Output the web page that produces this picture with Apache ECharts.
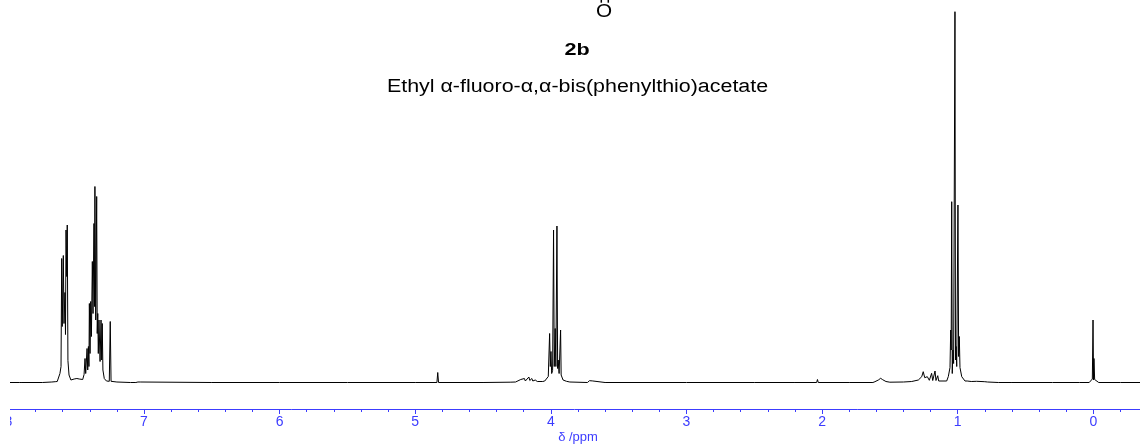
<!DOCTYPE html>
<html>
<head>
<meta charset="utf-8">
<script src="https://cdn.jsdelivr.net/npm/echarts@6/dist/echarts.min.js"></script>
<style>
html,body{margin:0;padding:0;background:#fff;}
#chart{width:1140px;height:444px;}
</style>
</head>
<body>
<div id="chart"></div>
<script>
// ---- data: [chemical shift (ppm), intensity (arb.)] ----
const baselinePoints = [[8.0,0],[7.92,0],[7.912,1.2],[7.90,0],[7.75,0],[7.68,0.5],[7.655,0.8],
  [7.2,0.5],[7.1,0],[6.5,0],[6.0,0],[5.5,0],[5.0,0],[4.5,0],[4.3,0.3],[3.6,0],[3.0,0],
  [2.5,0],[2.2,0],[1.8,0],[1.4,0.5],[0.6,0],[0.3,0],[0.1,0]];
const aromaticOrtho = [[7.640,1],[7.632,2],[7.620,9],[7.612,16],[7.607,124],[7.603,56],
  [7.595,127],[7.590,59],[7.583,90],[7.579,48],[7.575,152.5],[7.570,106],[7.566,157.5],
  [7.561,22],[7.553,7.5],[7.539,2.5]];
const aromaticGap = [[7.525,2],[7.515,3.5],[7.505,2.5],[7.495,4],[7.487,2.5],[7.478,3.5],[7.468,2.5]];
const aromaticMetaPara = [[7.452,3],[7.442,8],[7.435,24],[7.430,9],[7.420,34],[7.415,12.5],
  [7.410,36],[7.406,16],[7.403,79],[7.398,29],[7.393,81],[7.388,46],[7.381,121],[7.376,69],
  [7.369,159],[7.365,76],[7.362,196],[7.356,62.5],[7.349,186],[7.345,49],[7.341,69],
  [7.337,29],[7.332,62.5],[7.324,21],[7.317,62.5],[7.312,22.5],[7.308,59],[7.303,12.5],
  [7.293,4],[7.277,1.5]];
const solventPeak = [[7.256,1.2],[7.249,61],[7.243,1.2]];
const minorPeaks = [[7.06,0],[7.05,1.8],[7.045,0.5],[7.035,2],[7.028,0.5],[7.02,0],
  [4.840,0],[4.834,10],[4.828,0],
  [4.26,0.5],[4.222,3],[4.215,1],[4.195,4],[4.188,1.5],[4.162,5.5],[4.155,2],[4.140,4],
  [4.133,1.5],[4.115,2.5],[4.10,1],[4.06,1],[4.045,1.5],[4.031,2.5],
  [3.910,2.5],[3.885,1.2],[3.86,0.5],
  [3.73,0],[3.715,1.8],[3.708,0.3],[3.695,1.6],[3.685,0],
  [2.04,0],[2.034,3],[2.028,0],
  [1.625,0],[1.610,0.8],[1.585,2.5],[1.568,4.2],[1.553,2.8],[1.529,1],[1.50,0.3],
  [1.339,1],[1.290,2.5],[1.265,5.8],[1.254,10.8],[1.243,4.8],[1.224,5.8],[1.209,2.2],
  [1.192,9.2],[1.184,2],[1.167,11.5],[1.160,2],[1.147,6.8],[1.140,1.5],[1.081,1.5],
  [0.93,1.5],[0.90,1],[0.86,1.2],[0.80,0.8],[0.78,0.5],[0.70,0]];
const ch2Quartet = [[4.019,6],[4.009,49],[4.004,16],[3.999,31],[3.994,9],[3.987,12],
  [3.980,152.5],[3.975,16],[3.968,54],[3.963,16],[3.955,156.5],[3.950,14],[3.946,22.5],
  [3.939,9],[3.928,52.5],[3.924,7.5]];
const ch3Triplet = [[1.069,6],[1.0566,15],[1.0515,52.5],[1.048,32.5],[1.044,180.8],[1.040,9],
  [1.035,32.5],[1.030,19],[1.020,370.8],[1.016,22.5],[1.012,36],[1.007,16],[0.998,177.5],
  [0.993,26],[0.988,46],[0.983,15],[0.970,5.8],[0.946,1.5]];
const tmsPeak = [[0.03,0],[0.019,1],[0.007,3.5],[0.002,62.5],[-0.002,2.5],[-0.005,24],
  [-0.010,3],[-0.020,1],[-0.04,0],[-0.2,0],[-0.5,0],[-1,0]];
const axisRange = [-1, 8];       // ppm shown by the axis (part beyond the frame is off-canvas)
const titleLines = ['2b', 'Ethyl \u03b1-fluoro-\u03b1,\u03b1-bis(phenylthio)acetate'];
const axisTitle = '\u03b4 /ppm';

const spectrum = [].concat(baselinePoints, aromaticOrtho, aromaticGap, aromaticMetaPara,
  solventPeak, minorPeaks, ch2Quartet, ch3Triplet, tmsPeak).sort((a, b) => b[0] - a[0]);

const BLUE = '#3c3cff';
const FONT = 'Liberation Sans, Arial, sans-serif';
const chart = echarts.init(document.getElementById('chart'), null, {renderer: 'canvas'});
chart.setOption({
  animation: false,
  backgroundColor: '#fff',
  grid: {left: 8.4, top: 10, width: 1220.5, height: 382.5, containLabel: false, outerBoundsMode: 'none'},
  xAxis: {
    type: 'value', inverse: true, min: axisRange[0], max: axisRange[1], interval: 1,
    offset: 16.5,
    axisLine: {show: true, onZero: false, lineStyle: {color: BLUE, width: 1}},
    axisTick: {show: true, length: 5, lineStyle: {color: BLUE, width: 1}},
    minorTick: {show: true, splitNumber: 5, length: 3, lineStyle: {color: BLUE, width: 1}},
    axisLabel: {color: BLUE, fontSize: 14, fontFamily: FONT, margin: 6},
    splitLine: {show: false}, minorSplitLine: {show: false}
  },
  yAxis: {type: 'value', min: -10, max: 372.5, show: false},
  series: [{
    type: 'line', data: spectrum, showSymbol: false, symbol: 'none',
    lineStyle: {color: '#000', width: 1}, clip: true
  }],
  graphic: [
    {type: 'rect', z: 100, shape: {x: 0, y: 0, width: 10, height: 444}, style: {fill: '#fff'}},
    {type: 'line', z: 100, shape: {x1: 601.3, y1: 0, x2: 601.3, y2: 2.7}, style: {stroke: '#000', lineWidth: 1.5}},
    {type: 'line', z: 100, shape: {x1: 608.3, y1: 0, x2: 608.3, y2: 2.7}, style: {stroke: '#000', lineWidth: 1.5}},
    {type: 'text', z: 100, x: 604, y: 12.5, scaleX: 1.15, style: {text: 'O', x: 0, y: 0, textAlign: 'center', textVerticalAlign: 'middle', font: '18px ' + FONT, fill: '#000'}},
    {type: 'text', z: 100, x: 577, y: 50, scaleX: 1.27, style: {text: titleLines[0], x: 0, y: 0, textAlign: 'center', textVerticalAlign: 'middle', font: 'bold 17px ' + FONT, fill: '#000'}},
    {type: 'text', z: 100, x: 577.5, y: 87.5, scaleX: 1.19, style: {text: titleLines[1], x: 0, y: 0, textAlign: 'center', textVerticalAlign: 'middle', font: '18px ' + FONT, fill: '#000'}},
    {type: 'text', z: 100, x: 578, y: 437.5, style: {text: axisTitle, x: 0, y: 0, textAlign: 'center', textVerticalAlign: 'middle', font: '13px ' + FONT, fill: BLUE}}
  ]
});
</script>
</body>
</html>
